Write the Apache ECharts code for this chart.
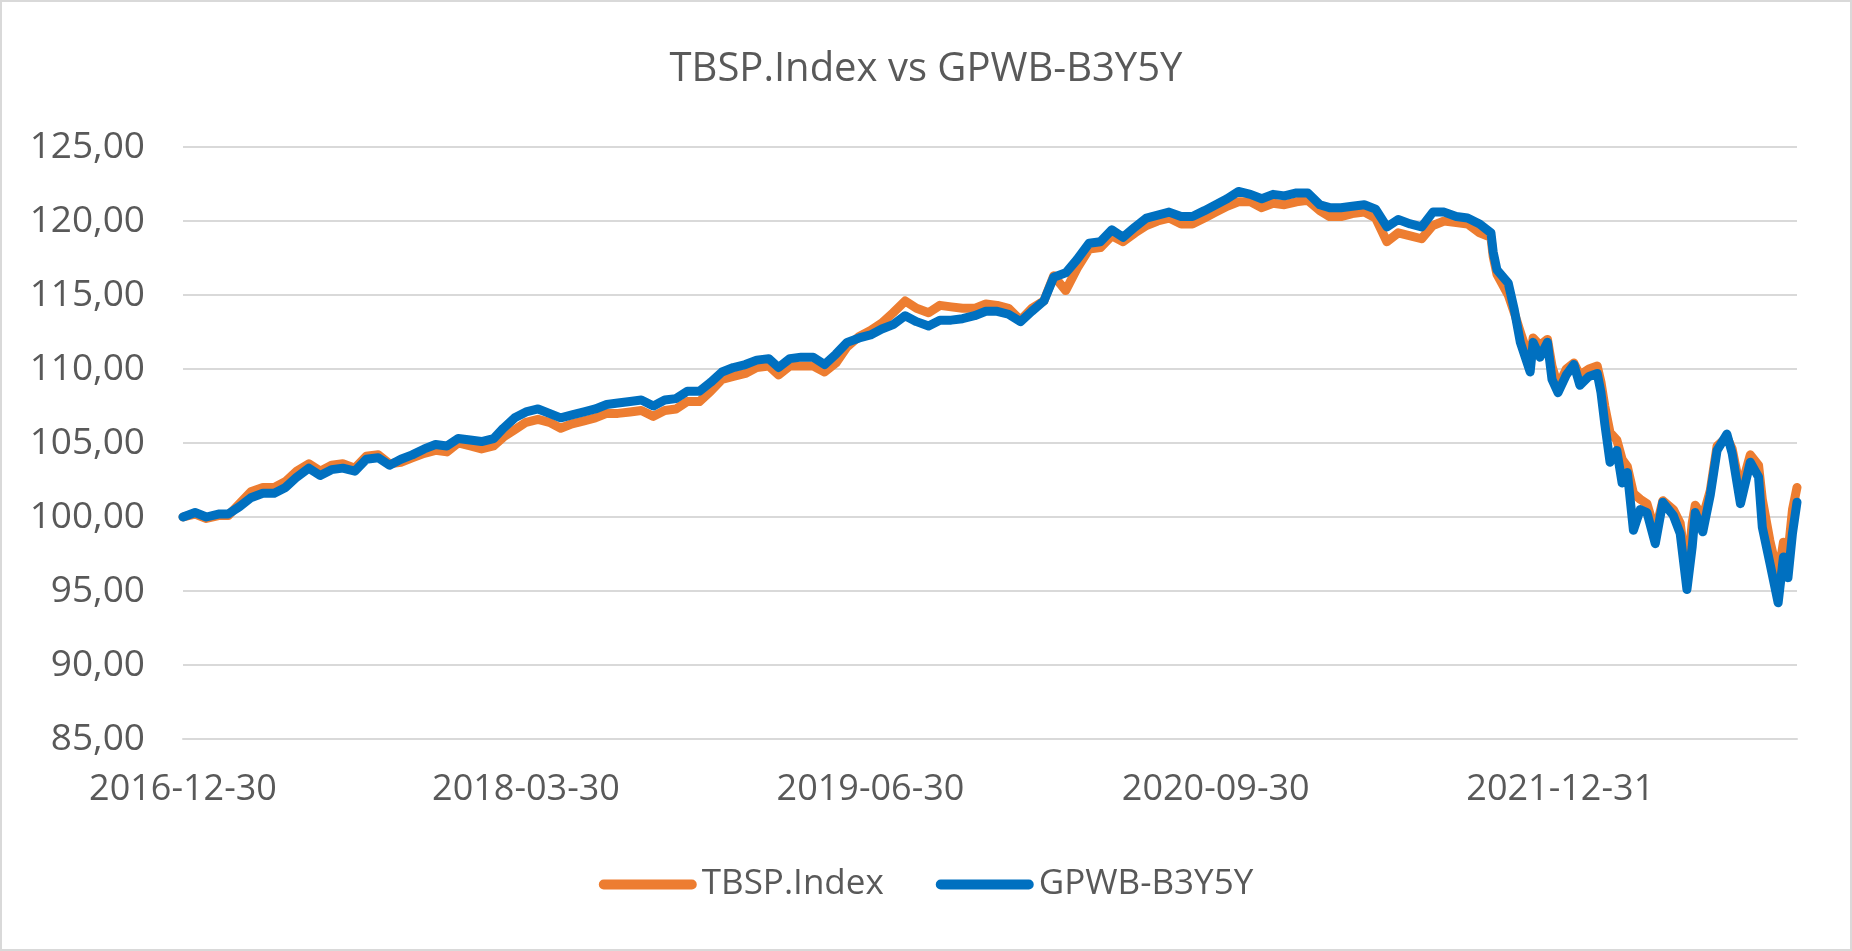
<!DOCTYPE html>
<html>
<head>
<meta charset="utf-8">
<script src="https://cdn.jsdelivr.net/npm/echarts@6/dist/echarts.min.js"></script>
<style>
html,body{margin:0;padding:0;background:#fff;}
#wrap{position:absolute;left:0;top:0;width:1852px;height:951px;box-sizing:border-box;border:2px solid #d9d9d9;}
#chart{position:absolute;left:0;top:0;width:1852px;height:951px;}
</style>
</head>
<body>
<div id="chart"></div>
<div id="wrap"></div>
<script>
// ---- data ----
const chartTitle = 'TBSP.Index vs GPWB-B3Y5Y';
const seriesNames = ['TBSP.Index', 'GPWB-B3Y5Y'];
const xTickLabels = ['2016-12-30', '2018-03-30', '2019-06-30', '2020-09-30', '2021-12-31'];
const xRange = ['2016-12-30', '2022-11-10'];

const dates = [
  '2016-12-30',
  '2017-01-15','2017-01-30','2017-02-15','2017-02-28','2017-03-15','2017-03-30','2017-04-15','2017-04-30','2017-05-15','2017-05-30','2017-06-15','2017-06-30',
  '2017-07-15','2017-07-30','2017-08-15','2017-08-30','2017-09-15','2017-09-30','2017-10-15','2017-10-30','2017-11-15','2017-11-30','2017-12-15','2017-12-30',
  '2018-01-15','2018-01-30','2018-02-15','2018-02-28','2018-03-15','2018-03-30','2018-04-15','2018-04-30','2018-05-15','2018-05-30','2018-06-15','2018-06-30',
  '2018-07-15','2018-07-30','2018-08-15','2018-08-30','2018-09-15','2018-09-30','2018-10-15','2018-10-30','2018-11-15','2018-11-30','2018-12-15','2018-12-30',
  '2019-01-15','2019-01-30','2019-02-15','2019-02-28','2019-03-15','2019-03-30','2019-04-15','2019-04-30','2019-05-15','2019-05-30','2019-06-15','2019-06-30',
  '2019-07-15','2019-07-30','2019-08-15','2019-08-30','2019-09-15','2019-09-30','2019-10-15','2019-10-30','2019-11-15','2019-11-30','2019-12-15','2019-12-30',
  '2020-01-15','2020-01-30','2020-02-15','2020-02-28','2020-03-15','2020-03-30','2020-04-15','2020-04-30','2020-05-15','2020-05-30','2020-06-15','2020-06-30',
  '2020-07-15','2020-07-30','2020-08-15','2020-08-30','2020-09-15','2020-09-30','2020-10-15','2020-10-30','2020-11-15','2020-11-30','2020-12-15','2020-12-30',
  '2021-01-15','2021-01-30','2021-02-15','2021-02-28','2021-03-15','2021-03-30','2021-04-15','2021-04-30','2021-05-15','2021-05-30','2021-06-15','2021-06-30',
  '2021-07-15','2021-07-30','2021-08-15','2021-08-30','2021-09-15','2021-09-30',
  '2021-10-03','2021-10-08','2021-10-23','2021-10-31','2021-11-08','2021-11-21','2021-11-25','2021-12-04','2021-12-14','2021-12-20','2021-12-28',
  '2022-01-08','2022-01-18','2022-01-26','2022-02-07','2022-02-18','2022-02-23','2022-02-28','2022-03-07','2022-03-16','2022-03-23','2022-03-30',
  '2022-04-07','2022-04-16','2022-04-25','2022-05-06','2022-05-16','2022-05-30','2022-06-08','2022-06-17','2022-06-24','2022-06-28','2022-07-08',
  '2022-07-18','2022-07-27','2022-08-09','2022-08-16','2022-08-27','2022-09-09','2022-09-20','2022-09-25','2022-10-05','2022-10-16','2022-10-23',
  '2022-10-29','2022-11-04','2022-11-10'
];

const tbspIndex = [
  100.0,
  100.2, 99.9,100.1,100.1,100.9,101.7,102.0,102.0,102.4,103.1,103.6,103.1,
  103.5,103.6,103.3,104.1,104.2,103.6,103.7,104.0,104.3,104.5,104.4,105.0,
  104.8,104.6,104.8,105.4,105.9,106.4,106.6,106.4,106.0,106.3,106.5,106.7,
  107.0,107.0,107.1,107.2,106.8,107.2,107.3,107.8,107.8,108.5,109.3,109.5,
  109.7,110.1,110.2,109.6,110.2,110.2,110.2,109.8,110.4,111.5,112.2,112.6,
  113.1,113.8,114.6,114.1,113.8,114.3,114.2,114.1,114.1,114.4,114.3,114.1,
  113.3,114.1,114.6,116.3,115.3,116.8,118.1,118.2,119.0,118.6,119.2,119.7,
  120.0,120.2,119.8,119.8,120.2,120.6,121.0,121.3,121.3,120.9,121.2,121.1,
  121.3,121.4,120.7,120.3,120.3,120.5,120.6,120.2,118.6,119.2,119.0,118.8,
  119.7,120.0,119.9,119.8,119.2,118.9,
  117.6,116.4,115.0,113.8,112.5,110.5,112.1,111.6,112.0,110.2,108.8,
  110.0,110.4,109.6,110.0,110.2,109.1,107.5,105.7,105.2,103.9,103.4,
  101.6,101.2,100.9, 99.0,101.1,100.5, 99.6, 96.0, 99.6,100.8,100.0,
  101.8,104.8,105.4,104.6,101.8,104.2,103.5,101.2, 98.4, 96.0, 98.3,
   97.5,100.5,102.0
];

const gpwbB3Y5Y = [
  100.0,
  100.3,100.0,100.2,100.2,100.7,101.3,101.6,101.6,102.0,102.7,103.3,102.8,
  103.2,103.3,103.1,103.9,104.0,103.5,103.9,104.2,104.6,104.9,104.8,105.3,
  105.2,105.1,105.3,106.0,106.7,107.1,107.3,107.0,106.7,106.9,107.1,107.3,
  107.6,107.7,107.8,107.9,107.5,107.9,108.0,108.5,108.5,109.1,109.8,110.1,
  110.3,110.6,110.7,110.1,110.7,110.8,110.8,110.3,111.0,111.8,112.1,112.3,
  112.7,113.0,113.6,113.2,112.9,113.3,113.3,113.4,113.6,113.9,113.9,113.7,
  113.2,113.9,114.6,116.2,116.5,117.4,118.5,118.6,119.4,118.9,119.6,120.2,
  120.4,120.6,120.3,120.3,120.7,121.1,121.5,122.0,121.8,121.5,121.8,121.7,
  121.9,121.9,121.1,120.9,120.9,121.0,121.1,120.8,119.6,120.1,119.8,119.6,
  120.6,120.6,120.3,120.2,119.8,119.2,
  117.9,116.7,115.8,114.0,111.8,109.8,111.8,110.8,111.8,109.3,108.4,
  109.6,110.3,108.9,109.5,109.7,108.4,106.3,103.7,104.5,102.3,103.0,
   99.1,100.5,100.3, 98.2,101.0,100.1, 98.9, 95.1, 98.0,100.3, 99.0,
  101.5,104.5,105.6,104.3,100.9,103.7,102.7, 99.3, 96.9, 94.2, 97.3,
   95.9, 98.9,101.0
];

// ---- chart ----
function toTs(s) { const p = s.split('-').map(Number); return new Date(p[0], p[1] - 1, p[2]).getTime(); }
function pad(n) { return (n < 10 ? '0' : '') + n; }
function fmtDate(v) { const d = new Date(v); return d.getFullYear() + '-' + pad(d.getMonth() + 1) + '-' + pad(d.getDate()); }

const FONT = "'Open Sans', 'Noto Sans', sans-serif";
const TEXT = '#595959';

const chart = echarts.init(document.getElementById('chart'), null, { renderer: 'canvas' });
chart.setOption({
  animation: false,
  backgroundColor: '#ffffff',
  title: {
    text: chartTitle, left: 'center', top: 45,
    textStyle: { fontFamily: FONT, fontSize: 40, fontWeight: 'normal', color: TEXT }
  },
  legend: {
    bottom: 44, left: 'center',
    itemWidth: 98, itemHeight: 12, itemGap: 52,
    icon: 'path://M5,0 H95 A5,5 0 0 1 95,10 H5 A5,5 0 0 1 5,0 Z',
    textStyle: { fontFamily: FONT, fontSize: 35, color: TEXT },
    data: seriesNames
  },
  grid: { left: 183, right: 55, top: 147, bottom: 212, containLabel: false, outerBoundsMode: 'none' },
  xAxis: {
    type: 'value',
    min: toTs(xRange[0]), max: toTs(xRange[1]),
    axisLine: { show: true, lineStyle: { color: '#d9d9d9', width: 2 } },
    axisTick: { show: false },
    splitLine: { show: false },
    axisLabel: {
      customValues: xTickLabels.map(toTs),
      formatter: (v) => fmtDate(v),
      fontFamily: FONT, fontSize: 36, color: TEXT, margin: 33,
      hideOverlap: false
    }
  },
  yAxis: {
    type: 'value', min: 85, max: 125, interval: 5,
    axisLine: { show: false }, axisTick: { show: false },
    splitLine: { show: true, lineStyle: { color: '#d9d9d9', width: 2 } },
    axisLabel: {
      formatter: (v) => v.toFixed(2).replace('.', ','),
      fontFamily: FONT, fontSize: 37, color: TEXT, margin: 38
    }
  },
  series: [
    {
      name: seriesNames[0], type: 'line', showSymbol: false, symbol: 'none',
      color: '#ED7D31',
      lineStyle: { width: 9, color: '#ED7D31', cap: 'round', join: 'round' },
      data: dates.map((d, i) => [toTs(d), tbspIndex[i]]),
      z: 2
    },
    {
      name: seriesNames[1], type: 'line', showSymbol: false, symbol: 'none',
      color: '#0070C0',
      lineStyle: { width: 9, color: '#0070C0', cap: 'round', join: 'round' },
      data: dates.map((d, i) => [toTs(d), gpwbB3Y5Y[i]]),
      z: 3
    }
  ]
});
</script>
</body>
</html>
